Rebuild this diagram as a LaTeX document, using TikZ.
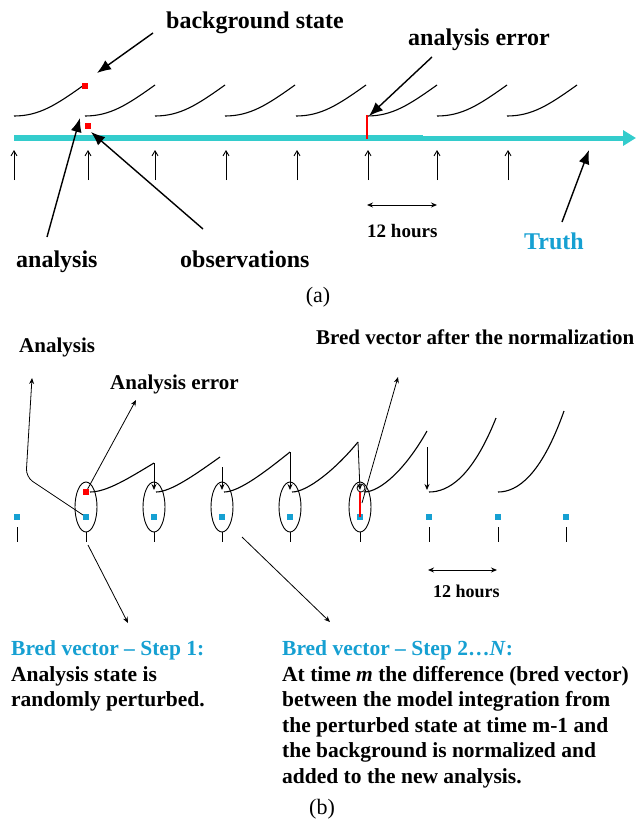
\documentclass[tikz,border=0pt]{standalone}
\usepackage{fontspec}
\setmainfont{Liberation Serif}
\usetikzlibrary{arrows.meta,shapes.geometric}
\definecolor{turq}{RGB}{51,204,204}
\definecolor{bblue}{RGB}{22,160,210}
\definecolor{rred}{RGB}{255,0,0}
\begin{document}
\begin{tikzpicture}[x=1pt,y=-1pt,
  la/.style={font=\fontsize{24}{28}\selectfont\bfseries, inner sep=0pt, anchor=base west},
  lb/.style={font=\fontsize{21}{25}\selectfont\bfseries, inner sep=0pt, anchor=base west},
  lc/.style={font=\fontsize{21.5}{25}\selectfont\bfseries, inner sep=0pt, anchor=base west},
  hrsa/.style={font=\fontsize{19}{22}\selectfont\bfseries, inner sep=0pt, anchor=base west},
  hrsb/.style={font=\fontsize{18}{22}\selectfont\bfseries, inner sep=0pt, anchor=base west},
  captext/.style={font=\fontsize{22}{26}\selectfont, inner sep=0pt, anchor=base},
  model/.style={line width=1.1pt},
  bigarr/.style={line width=1.4pt, -{Latex[length=14pt,width=11pt]}},
  uparr/.style={line width=0.9pt, -{Straight Barb[length=5pt,width=6pt]}},
  dbl/.style={line width=0.9pt, {Stealth[length=6pt,width=5pt]}-{Stealth[length=6pt,width=5pt]}},
  arrb/.style={line width=0.8pt, -{Stealth[length=6pt,width=5pt]}},
  sq/.style={minimum size=6pt, inner sep=0pt, outer sep=0pt},
  ell/.style={draw, ellipse, line width=0.9pt, minimum width=22pt, minimum height=50pt, inner sep=0pt},
]
\useasboundingbox (0,0) rectangle (636,822);

% ================= (a) =================
% truth line
\coordinate (t0) at (14,138);
\coordinate (tm) at (423,138);
\coordinate (t1) at (636,138);
\draw[turq, line width=6pt] (t0) -- (tm);
\draw[turq, line width=5pt, -{Triangle[length=13pt,width=15pt]}] (tm) -- (t1);

% model trajectories
\foreach \x in {14,85,155,225,296,367,437,507}
  \draw[model] (\x,116) .. controls (\x+25,116) and (\x+42,105) .. (\x+70,85);

% background and observation
\node[sq, fill=rred] (bg) at (85,86) {};
\node[sq, fill=rred] (obs) at (88,126) {};

% analysis error bar
\coordinate (ae0) at (367,115);
\coordinate (ae1) at (367,139);
\draw[rred, line width=2.5pt] (ae0) -- (ae1);

% observation times
\foreach \x in {14,88,155,226,297,368,437,508}
  \draw[uparr] (\x,180) -- (\x,150);

% labels
\node[la] (lbg) at (166,28) {background state};
\node[la] (lae) at (408,45) {analysis error};
\node[la] (lan) at (16,267) {analysis};
\node[la] (lob) at (180,267) {observations};
\node[la, text=bblue] (ltr) at (524,249) {Truth};
\node[hrsa] (lha) at (367,237) {12 hours};

% pointer arrows
\coordinate (pbg0) at (153,33);   \coordinate (pbg1) at (97,73);
\coordinate (pae0) at (432,57);   \coordinate (pae1) at (369,116);
\coordinate (pan0) at (47,237);   \coordinate (pan1) at (80,118);
\coordinate (pob0) at (203,229);  \coordinate (pob1) at (91,132);
\coordinate (ptr0) at (562,222);  \coordinate (ptr1) at (589,150);
\draw[bigarr] (pbg0) -- (pbg1);
\draw[bigarr] (pae0) -- (pae1);
\draw[bigarr] (pan0) -- (pan1);
\draw[bigarr] (pob0) -- (pob1);
\draw[bigarr] (ptr0) -- (ptr1);

\coordinate (ha0) at (367,205); \coordinate (ha1) at (437,205);
\draw[dbl] (ha0) -- (ha1);

\node[captext] (capa) at (318,302) {(a)};

% ================= (b) =================
\foreach \x [count=\i] in {86,154,222,290,360}
  \node[ell] (e\i) at (\x,507) {};

\foreach \x [count=\i] in {17,86,154,222,290,360,429,498,566}
  \node[sq, fill=bblue] (b\i) at (\x,517) {};

\foreach \x in {86,154,222,290,360}
  \draw[line width=0.9pt] (\x,532) -- (\x,542);
\foreach \x in {17,429,498,566}
  \draw[line width=0.9pt] (\x,527) -- (\x,542);

\node[sq, fill=rred] (pert) at (86,492) {};
\coordinate (bv0) at (360,492); \coordinate (bv1) at (360,517);
\draw[rred, line width=2.5pt] (bv0) -- (bv1);
\draw[line width=0.8pt] (361,488) circle [radius=4pt];

% perturbed trajectories
\draw[model] (90,492) .. controls (107,492) and (129,478) .. (154,463);
\draw[model] (156,492) .. controls (171,492) and (196,474) .. (220,457);
\draw[model] (224,492) .. controls (239,492) and (265,472) .. (290,452);
\draw[model] (292,492) .. controls (307,492) and (335,470) .. (358,442);
\draw[model] (364,492) .. controls (380,492) and (405,470) .. (427,431);
\draw[model] (429,492) .. controls (448,492) and (472,478) .. (496,418);
\draw[model] (498,492) .. controls (517,492) and (541,476) .. (564,411);

% normalisation arrows
\draw[arrb] (154,463) -- (154,490);
\draw[arrb] (222,467) -- (222,490);
\draw[arrb] (290,452) -- (290,490);
\draw[arrb] (358,442) -- (360,490);
\draw[arrb] (427,447) -- (427,490);

% pointers
\node[lb] (lAn) at (19,352) {Analysis};
\node[lb] (lAe) at (110,389) {Analysis error};
\node[lb] (lBv) at (316,344) {Bred vector after the normalization};
\draw[arrb, rounded corners=8pt] (b2) -- (26,477) -- (32,378);
\draw[arrb] (pert) -- (136,400);
\draw[arrb] (362,503) -- (398,377);
\draw[arrb] (88,545) -- (128,623);
\draw[arrb] (242,537) -- (330,622);

\coordinate (hb0) at (428,570); \coordinate (hb1) at (497,570);
\draw[dbl] (hb0) -- (hb1);
\node[hrsb] (lhb) at (433,597) {12 hours};

% texts
\node[lc, text=bblue] (s1) at (11,655) {Bred vector – Step 1:};
\node[lc] (s1a) at (11,681) {Analysis state is};
\node[lc] (s1b) at (11,706) {randomly perturbed.};
\node[lc, text=bblue] (s2) at (282,655) {Bred vector – Step 2…\textit{N}:};
\node[lc] (s2a) at (282,681) {At time \textit{m} the difference (bred vector)};
\node[lc] (s2b) at (282,706) {between the model integration from};
\node[lc] (s2c) at (282,732) {the perturbed state at time m-1 and};
\node[lc] (s2d) at (282,757) {the background is normalized and};
\node[lc] (s2e) at (282,783) {added to the new analysis.};

\node[captext] (capb) at (322,814) {(b)};
\end{tikzpicture}
\end{document}
